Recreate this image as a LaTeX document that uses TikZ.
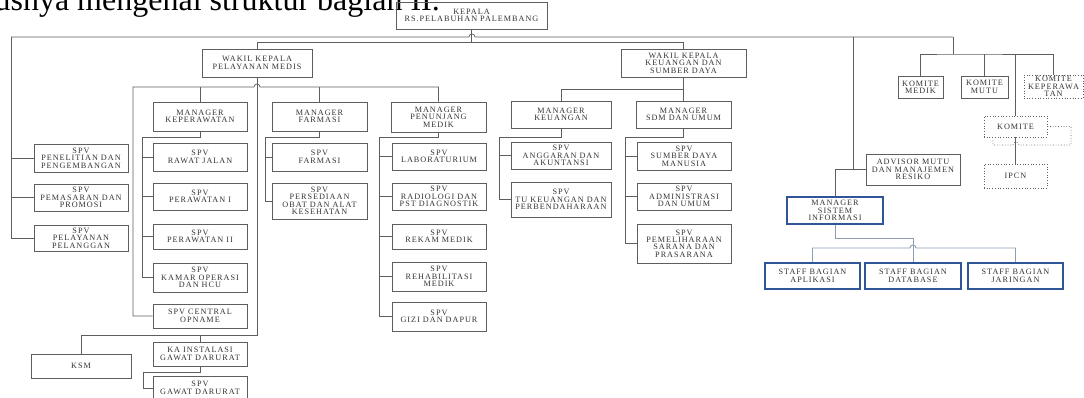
\documentclass[tikz,border=0pt]{standalone}
\usepackage{fontspec}
\setmainfont{Liberation Serif}
\newfontfamily\orgfont[LetterSpace=12]{Liberation Serif}
\definecolor{boxgray}{HTML}{5E5E5E}
\definecolor{txtgray}{HTML}{333333}
\definecolor{siblue}{HTML}{2F5597}
\definecolor{siline}{HTML}{8C9DB5}

\begin{document}
\begin{tikzpicture}[x=1pt,y=-1pt,
  box/.style={draw=boxgray,line width=0.7pt,inner sep=0pt,align=center,
    font=\orgfont\fontsize{8.2}{7.4}\selectfont,text=txtgray},
  dbox/.style={box,dotted},
  sibox/.style={box,draw=siblue,line width=2pt},
  link/.style={draw=boxgray,line width=0.7pt},
  silink/.style={draw=siline,line width=0.9pt}]
\useasboundingbox (0,0) rectangle (1084,398);
\clip (0,0) rectangle (1084,398);
\fill[white] (0,0) rectangle (1084,398);
% line of the page text, cut at the top
\node[anchor=base east,inner sep=0pt,font=\fontsize{32}{32}\selectfont] (intro) at (440,11) {khususnya mengenal struktur bagian II.};

% top and deputies
\node[box,minimum width=151pt,minimum height=27pt] (kepala) at (471.5,15.5) {KEPALA\\RS.PELABUHAN PALEMBANG};
\node[box,minimum width=110pt,minimum height=28pt] (wakilpm) at (257,63) {WAKIL KEPALA\\PELAYANAN MEDIS};
\node[box,minimum width=125pt,minimum height=28pt] (wakilkeu) at (683.5,63) {WAKIL KEPALA\\KEUANGAN DAN\\SUMBER DAYA};

% managers
\node[box,minimum width=94pt,minimum height=29pt] (mkep) at (200,116.5) {MANAGER\\KEPERAWATAN};
\node[box,minimum width=95pt,minimum height=29pt] (mfar) at (319.5,116.5) {MANAGER\\FARMASI};
\node[box,minimum width=95pt,minimum height=30pt] (mpen) at (438.5,117) {MANAGER\\PENUNJANG\\MEDIK};
\node[box,minimum width=100pt,minimum height=27pt] (mkeu) at (561,114.5) {MANAGER\\KEUANGAN};
\node[box,minimum width=95pt,minimum height=27pt] (msdm) at (683.5,114.5) {MANAGER\\SDM DAN UMUM};

% left column
\node[box,minimum width=94pt,minimum height=28pt] (spvpen) at (81,158) {SPV\\PENELITIAN DAN\\PENGEMBANGAN};
\node[box,minimum width=94pt,minimum height=27pt] (spvpem) at (81,197.5) {SPV\\PEMASARAN DAN\\PROMOSI};
\node[box,minimum width=94pt,minimum height=26pt] (spvpel) at (81,238) {SPV\\PELAYANAN\\PELANGGAN};

% keperawatan
\node[box,minimum width=94pt,minimum height=28pt] (spvrj) at (200,157) {SPV\\RAWAT JALAN};
\node[box,minimum width=94pt,minimum height=27pt] (spvp1) at (200,196.5) {SPV\\PERAWATAN I};
\node[box,minimum width=94pt,minimum height=25pt] (spvp2) at (200,236.5) {SPV\\PERAWATAN II};
\node[box,minimum width=94pt,minimum height=29pt] (spvko) at (200,277.5) {SPV\\KAMAR OPERASI\\DAN HCU};
\node[box,minimum width=94pt,minimum height=24pt] (spvco) at (200,316) {SPV CENTRAL\\OPNAME};
\node[box,minimum width=100pt,minimum height=24pt] (ksm) at (81,366) {KSM};
\node[box,minimum width=94pt,minimum height=24pt] (kaigd) at (200,354) {KA INSTALASI\\GAWAT DARURAT};
\node[box,minimum width=94pt,minimum height=24pt] (spvgd) at (200,388) {SPV\\GAWAT DARURAT};

% farmasi
\node[box,minimum width=95pt,minimum height=28pt] (spvfar) at (319.5,157) {SPV\\FARMASI};
\node[box,minimum width=95pt,minimum height=36pt] (spvobat) at (319.5,201) {SPV\\PERSEDIAAN\\OBAT DAN ALAT\\KESEHATAN};

% penunjang medik
\node[box,minimum width=94pt,minimum height=27pt] (spvlab) at (439,156.5) {SPV\\LABORATURIUM};
\node[box,minimum width=94pt,minimum height=27pt] (spvrad) at (439,196.5) {SPV\\RADIOLOGI DAN\\PST DIAGNOSTIK};
\node[box,minimum width=94pt,minimum height=25pt] (spvrek) at (439,236.5) {SPV\\REKAM MEDIK};
\node[box,minimum width=94pt,minimum height=29pt] (spvreh) at (439,276.5) {SPV\\REHABILITASI\\MEDIK};
\node[box,minimum width=94pt,minimum height=29pt] (spvgizi) at (439,316.5) {SPV\\GIZI DAN DAPUR};

% keuangan, sdm
\node[box,minimum width=100pt,minimum height=27pt] (spvang) at (561,155.5) {SPV\\ANGGARAN DAN\\AKUNTANSI};
\node[box,minimum width=100pt,minimum height=35pt] (spvtu) at (561,199.5) {SPV\\TU KEUANGAN DAN\\PERBENDAHARAAN};
\node[box,minimum width=94pt,minimum height=28pt] (spvsdm) at (684,156) {SPV\\SUMBER DAYA\\MANUSIA};
\node[box,minimum width=94pt,minimum height=27pt] (spvadm) at (684,196.5) {SPV\\ADMINISTRASI\\DAN UMUM};
\node[box,minimum width=94pt,minimum height=39pt] (spvpml) at (684,243.5) {SPV\\PEMELIHARAAN\\SARANA DAN\\PRASARANA};

% advisor and sistem informasi
\node[box,minimum width=94pt,minimum height=31pt] (advisor) at (913,169.5) {ADVISOR MUTU\\DAN MANAJEMEN\\RESIKO};
\node[sibox,minimum width=96pt,minimum height=27pt] (msi) at (835,210.5) {MANAGER\\SISTEM\\INFORMASI};
\node[sibox,minimum width=95pt,minimum height=26pt] (sapl) at (812.5,276) {STAFF BAGIAN\\APLIKASI};
\node[sibox,minimum width=96pt,minimum height=26pt] (sdb) at (913,276) {STAFF BAGIAN\\DATABASE};
\node[sibox,minimum width=95pt,minimum height=26pt] (sjar) at (1015.5,276) {STAFF BAGIAN\\JARINGAN};

% komite
\node[box,minimum width=45pt,minimum height=22pt] (kmed) at (920.5,87) {KOMITE\\MEDIK};
\node[box,minimum width=47pt,minimum height=22pt] (kmutu) at (984.5,87) {KOMITE\\MUTU};
\node[dbox,minimum width=59pt,minimum height=23pt] (kkep) at (1053.5,86.5) {KOMITE\\KEPERAWA\\TAN};
\node[dbox,minimum width=63pt,minimum height=21pt] (komite) at (1015.5,126.5) {KOMITE};
\node[dbox,minimum width=63pt,minimum height=24pt] (ipcn) at (1015.5,176) {IPCN};

% buses under kepala
\coordinate (tl) at (11,37);
\coordinate (tr) at (953,37);
\coordinate (adv) at (853,37);
\coordinate (hop1) at (469,37);
\draw[link] (tl) -- (hop1) arc[start angle=180,end angle=0,radius=3pt] -- (tr);
\draw[link] (kepala.south) -- ++(0,14);
\draw[link] (wakilpm.north) -- ++(0,-6) -| (wakilkeu.north);
\draw[link] (tl) |- (spvpel.west);
\foreach \n in {spvpen,spvpem} \draw[link] (\n.west) -- (\n.west -| tl);
\draw[link] (adv) |- (advisor.west);
\draw[link] (msi.north) |- (advisor.west);

% pelayanan medis
\coordinate (pmbus) at (133,87);
\coordinate (hop2) at (254,87);
\draw[link] (wakilpm.south) -- ++(0,258) -| (ksm.north);
\draw[link] (kaigd.north) -- ++(0,-7);
\draw[link] (spvco.west) -| (pmbus) -- (hop2) arc[start angle=180,end angle=0,radius=3pt] -| (mpen.north);
\draw[link] (mkep.north) -- (mkep.north |- pmbus);
\draw[link] (mfar.north) -- (mfar.north |- pmbus);
\coordinate (kepv) at (142,137);
\draw[link] (mkep.south) |- (kepv) |- (spvko.west);
\foreach \n in {spvrj,spvp1,spvp2} \draw[link] (\n.west) -- (\n.west -| kepv);
\coordinate (farv) at (265,137);
\draw[link] (mfar.south) |- (farv) |- (spvobat.west);
\draw[link] (spvfar.west) -- (spvfar.west -| farv);
\coordinate (penv) at (379,137);
\draw[link] (mpen.south) |- (penv) |- (spvgizi.west);
\foreach \n in {spvlab,spvrad,spvrek,spvreh} \draw[link] (\n.west) -- (\n.west -| penv);
\coordinate (igdv) at (143,372);
\draw[link] (kaigd.south) |- (igdv) |- (spvgd.west);

% keuangan dan sumber daya
\coordinate (keubus) at (683.5,89);
\draw[link] (wakilkeu.south) -- (msdm.north);
\draw[link] (mkeu.north) |- (keubus);
\coordinate (keuv) at (499,137);
\draw[link] (mkeu.south) |- (keuv) |- (spvtu.west);
\draw[link] (spvang.west) -- (spvang.west -| keuv);
\coordinate (sdmv) at (625,137);
\draw[link] (msdm.south) |- (sdmv) |- (spvpml.west);
\foreach \n in {spvsdm,spvadm} \draw[link] (\n.west) -- (\n.west -| sdmv);

% sistem informasi staff
\coordinate (hop3) at (910,248);
\draw[silink] (msi.south) -- ++(0,13) -| (sdb.north);
\draw[silink] (sapl.north) |- (hop3) arc[start angle=180,end angle=0,radius=3pt] -| (sjar.north);

% komite
\coordinate (kbar) at (953,54);
\draw[link] (tr) -- (kbar);
\draw[link] (kmed.north) |- (kbar) -| (kkep.north);
\draw[link] (kmutu.north) -- (kmutu.north |- kbar);
\draw[link] (komite.north) -- (komite.north |- kbar);
\coordinate (kloop) at (1071,145);
\coordinate (hop4) at (1019,145);
\coordinate (kstub) at (993,139);
\draw[link,dotted] (komite.east) -| (kloop) -- (hop4) arc[start angle=0,end angle=180,radius=3pt] -| (kstub);
\draw[link] (komite.south) -- (ipcn.north);
\end{tikzpicture}
\end{document}
